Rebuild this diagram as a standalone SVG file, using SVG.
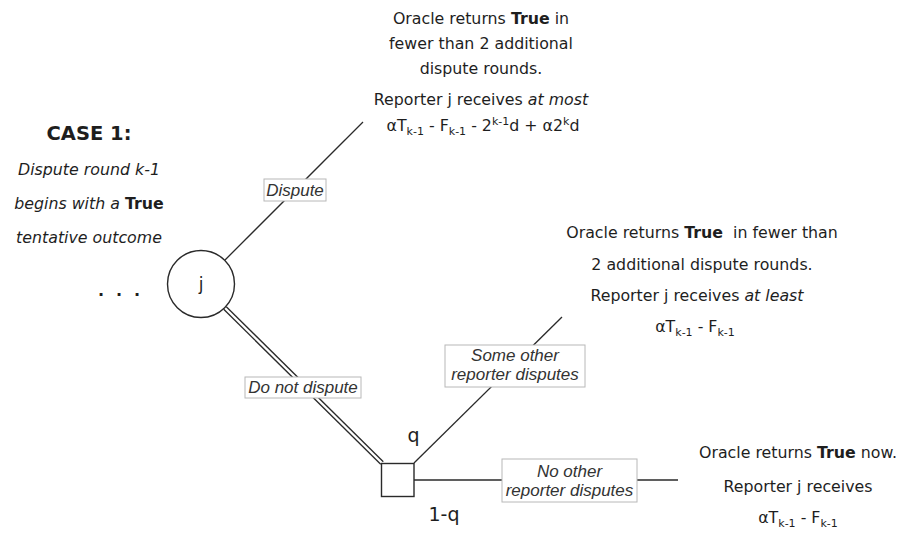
<svg xmlns="http://www.w3.org/2000/svg" width="903" height="536" viewBox="0 0 903 536">
  <style>
    .t { font-family: "DejaVu Sans", Verdana, sans-serif; font-size: 15.8px; fill: #1e1e1e; }
    .mid { text-anchor: middle; }
    .b { font-weight: bold; }
    .i { font-style: italic; }
    .sub, .sup { font-size: 11px; }
    .edge { stroke: #2a2a2a; stroke-width: 1.3; fill: none; }
    .dbl-out { stroke: #2a2a2a; stroke-width: 5; fill: none; }
    .dbl-in { stroke: #ffffff; stroke-width: 2.4; fill: none; }
    .lbl-box { fill: #ffffff; stroke: #b8b8b8; stroke-width: 1; }
    .lbl { font-family: "Liberation Sans", Arial, sans-serif; font-style: italic; font-size: 17px; fill: #333333; text-anchor: middle; }
    .node { fill: #ffffff; stroke: #2a2a2a; stroke-width: 1.4; }
    .prob { font-family: "DejaVu Sans", Verdana, sans-serif; font-size: 19px; fill: #1e1e1e; text-anchor: middle; }
  </style>

  <!-- branches of the game tree -->
  <g id="connectors">
    <line class="edge" x1="225" y1="260" x2="363" y2="122"/>
    <line class="dbl-out" x1="225" y1="308" x2="382" y2="463"/>
    <line class="dbl-in" x1="224" y1="307" x2="383" y2="464"/>
    <line class="edge" x1="414" y1="463" x2="562" y2="317"/>
    <line class="edge" x1="414" y1="480" x2="678" y2="480"/>

    <g id="label-dispute">
      <rect class="lbl-box" x="264" y="179" width="62" height="22"/>
      <text class="lbl" x="295" y="196">Dispute</text>
    </g>
    <g id="label-do-not-dispute">
      <rect class="lbl-box" x="245" y="377" width="116" height="21"/>
      <text class="lbl" x="303" y="393">Do not dispute</text>
    </g>
    <g id="label-some-other">
      <rect class="lbl-box" x="445" y="345" width="140" height="42"/>
      <text class="lbl" x="515" y="361">Some other</text>
      <text class="lbl" x="515" y="380">reporter disputes</text>
    </g>
    <g id="label-no-other">
      <rect class="lbl-box" x="502" y="459" width="135" height="43"/>
      <text class="lbl" x="569.5" y="477">No other</text>
      <text class="lbl" x="569.5" y="496">reporter disputes</text>
    </g>
  </g>

  <!-- case heading -->
  <g id="case-title">
    <text class="t mid b" x="89" y="140" style="font-size:19.5px">CASE 1:</text>
    <text class="t mid i" x="89" y="175">Dispute round k-1</text>
    <text class="t mid" x="89" y="209"><tspan class="i">begins with a </tspan><tspan class="b">True</tspan></text>
    <text class="t mid i" x="89" y="243">tentative outcome</text>
    <text class="t b" x="98 116 134" y="296" style="font-size:16px">...</text>
  </g>

  <!-- decision node for reporter j -->
  <g id="node-j">
    <circle class="node" cx="201" cy="284" r="33.5"/>
    <text class="t mid" x="201" y="290" style="font-size:17px">j</text>
  </g>

  <!-- chance node: another reporter disputes or not -->
  <g id="node-chance">
    <rect class="node" x="381.5" y="463.5" width="32.5" height="33"/>
    <text class="prob" x="413.5" y="442">q</text>
    <text class="prob" x="444" y="521">1-q</text>
  </g>

  <!-- payoff after disputing -->
  <g id="outcome-dispute">
    <text class="t mid" x="481" y="24">Oracle returns <tspan class="b">True</tspan> in</text>
    <text class="t mid" x="481" y="49">fewer than 2 additional</text>
    <text class="t mid" x="481" y="74">dispute rounds.</text>
    <text class="t mid" x="481" y="105">Reporter j receives <tspan class="i">at most</tspan></text>
    <text class="t mid" x="483" y="131">αT<tspan class="sub" dy="4">k-1</tspan><tspan dy="-4"> - F</tspan><tspan class="sub" dy="4">k-1</tspan><tspan dy="-4"> - 2</tspan><tspan class="sup" dy="-6">k-1</tspan><tspan dy="6">d + α2</tspan><tspan class="sup" dy="-6">k</tspan><tspan dy="6">d</tspan></text>
  </g>

  <!-- payoff when another reporter disputes -->
  <g id="outcome-other-disputes">
    <text class="t mid" x="702" y="238" xml:space="preserve">Oracle returns <tspan class="b">True</tspan>  in fewer than</text>
    <text class="t mid" x="702" y="270">2 additional dispute rounds.</text>
    <text class="t mid" x="697" y="301">Reporter j receives <tspan class="i">at least</tspan></text>
    <text class="t mid" x="695" y="332">αT<tspan class="sub" dy="4">k-1</tspan><tspan dy="-4"> - F</tspan><tspan class="sub" dy="4">k-1</tspan></text>
  </g>

  <!-- payoff when nobody disputes -->
  <g id="outcome-no-dispute">
    <text class="t mid" x="798" y="458">Oracle returns <tspan class="b">True</tspan> now.</text>
    <text class="t mid" x="798" y="492">Reporter j receives</text>
    <text class="t mid" x="798" y="523">αT<tspan class="sub" dy="4">k-1</tspan><tspan dy="-4"> - F</tspan><tspan class="sub" dy="4">k-1</tspan></text>
  </g>
</svg>
